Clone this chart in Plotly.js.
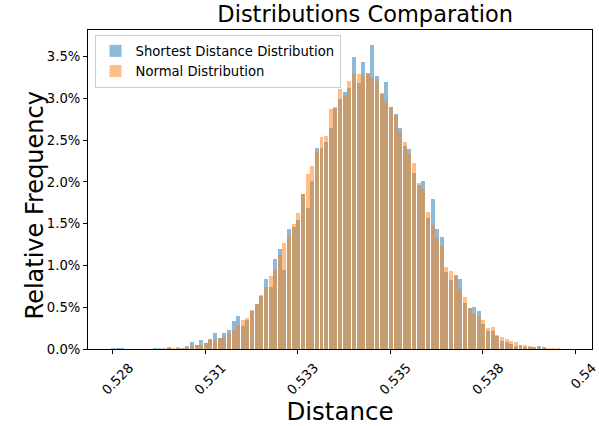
<!DOCTYPE html>
<html>
<head>
<meta charset="utf-8">
<script src="https://cdn.plot.ly/plotly-3.0.1.min.js"></script>
<style>html,body{margin:0;padding:0;background:#fff}#chart{width:599px;height:426px}</style>
</head>
<body>
<div id="chart"></div>
<script>
// Histogram bins (shared by both series)
const binStart = 0.52816;
const binWidth = 0.00012;

// Relative frequency (%) per bin
const shortestDistance = [
  0.012, 0.012, 0.012, 0, 0, 0, 0, 0, 0, 0.008,
  0.008, 0, 0.024, 0.004, 0.012, 0.008, 0.036, 0.084, 0.048, 0.108,
  0.074, 0.12, 0.192, 0.134, 0.192, 0.228, 0.336, 0.398, 0.28, 0.348,
  0.456, 0.54, 0.638, 0.84, 0.746, 1.078, 1.2, 0.948, 1.44, 1.464,
  1.548, 1.856, 1.692, 2.008, 2.4, 2.4, 2.476, 2.64, 2.88, 2.988,
  3.072, 3.124, 3.492, 3.18, 3.432, 3.3, 3.636, 3.264, 3.048, 3.196,
  2.892, 2.808, 2.64, 2.424, 2.388, 2.112, 1.968, 2.016, 1.572, 1.8,
  1.44, 1.344, 0.924, 0.828, 0.888, 0.84, 0.552, 0.492, 0.504, 0.456,
  0.3, 0.216, 0.216, 0.156, 0.096, 0.084, 0.06, 0.036, 0.044, 0.024,
  0.024, 0.024, 0.036, 0.024, 0.004, 0, 0, 0.004, 0
];
const normalDistribution = [
  0, 0, 0, 0, 0, 0, 0, 0, 0.004, 0,
  0.004, 0.008, 0.008, 0.008, 0.024, 0.012, 0.016, 0.036, 0.052, 0.052,
  0.076, 0.104, 0.112, 0.136, 0.148, 0.18, 0.228, 0.288, 0.348, 0.372,
  0.462, 0.54, 0.648, 0.746, 0.872, 0.948, 1.128, 1.272, 1.368, 1.5,
  1.632, 1.86, 2.1, 2.196, 2.356, 2.536, 2.548, 2.868, 2.892, 3.108,
  3.04, 3.204, 3.304, 3.288, 3.268, 3.288, 3.256, 3.208, 3.06, 2.968,
  2.892, 2.796, 2.604, 2.472, 2.328, 2.232, 1.992, 1.92, 1.644, 1.488,
  1.332, 1.236, 0.984, 0.936, 0.876, 0.72, 0.624, 0.492, 0.42, 0.396,
  0.348, 0.252, 0.264, 0.168, 0.144, 0.12, 0.096, 0.084, 0.048, 0.048,
  0.036, 0.024, 0.016, 0.012, 0.012, 0.012, 0.012, 0.004, 0.004
];

// Axis ticks
const xTickVals = [0.5282, 0.5306, 0.5330, 0.5354, 0.5378, 0.5402];
const xTickText = ['0.528', '0.531', '0.533', '0.535', '0.538', '0.54'];
const yTickVals = [0, 0.5, 1.0, 1.5, 2.0, 2.5, 3.0, 3.5];
const yTickText = ['0.0%', '0.5%', '1.0%', '1.5%', '2.0%', '2.5%', '3.0%', '3.5%'];

const nBins = shortestDistance.length;
const centers = shortestDistance.map((_, i) => binStart + (i + 0.5) * binWidth);
const dataMin = binStart, dataMax = binStart + nBins * binWidth;
const span = dataMax - dataMin;
const yMax = Math.max(...shortestDistance, ...normalDistribution) * 1.05;

const font = 'DejaVu Sans, sans-serif';

const traces = [
  {type: 'bar', name: 'Shortest Distance Distribution', x: centers, y: shortestDistance,
   width: binWidth * 0.86, marker: {color: '#1f77b4', line: {width: 0}}, opacity: 0.5},
  {type: 'bar', name: 'Normal Distribution', x: centers, y: normalDistribution,
   width: binWidth * 0.86, marker: {color: '#ff7f0e', line: {width: 0}}, opacity: 0.5}
];

const axisCommon = {
  showline: true, linecolor: '#000', linewidth: 1, mirror: true,
  ticks: 'outside', ticklen: 4, tickwidth: 1, tickcolor: '#000',
  showgrid: false, zeroline: false,
  tickfont: {family: font, size: 13.2, color: '#000'}
};

const layout = {
  width: 599, height: 426,
  margin: {l: 88, r: 7, t: 30, b: 77},
  paper_bgcolor: '#fff', plot_bgcolor: '#fff',
  barmode: 'overlay', bargap: 0,
  font: {family: font, color: '#000'},
  title: {text: 'Distributions Comparation', font: {family: font, size: 22.5, color: '#000'},
          x: 0.55, xref: 'paper', xanchor: 'center', y: 0.966, yref: 'container', yanchor: 'middle'},
  xaxis: Object.assign({}, axisCommon, {
    range: [dataMin - 0.05 * span, dataMax + 0.05 * span],
    tickmode: 'array', tickvals: xTickVals, ticktext: xTickText,
    tickangle: -45, ticklabelshift: 17, ticklabelstandoff: 1, ticklabeloverflow: 'allow',
    title: {text: 'Distance', font: {family: font, size: 24.5, color: '#000'}, standoff: 4}
  }),
  yaxis: Object.assign({}, axisCommon, {
    range: [0, yMax],
    tickmode: 'array', tickvals: yTickVals, ticktext: yTickText
  }),
  annotations: [{
    text: 'Relative Frequency', textangle: -90, showarrow: false,
    xref: 'paper', x: 0, xshift: -53, xanchor: 'center',
    yref: 'paper', y: 0.45, yanchor: 'middle',
    font: {family: font, size: 24, color: '#000'}
  }],
  legend: {x: 0.013, y: 0.985, xanchor: 'left', yanchor: 'top',
           bgcolor: 'rgba(255,255,255,0.8)', bordercolor: '#cccccc', borderwidth: 1,
           font: {family: font, size: 13.2, color: '#000'}, tracegroupgap: 0}
};

Plotly.newPlot('chart', traces, layout, {staticPlot: true, displayModeBar: false});
</script>
</body>
</html>
